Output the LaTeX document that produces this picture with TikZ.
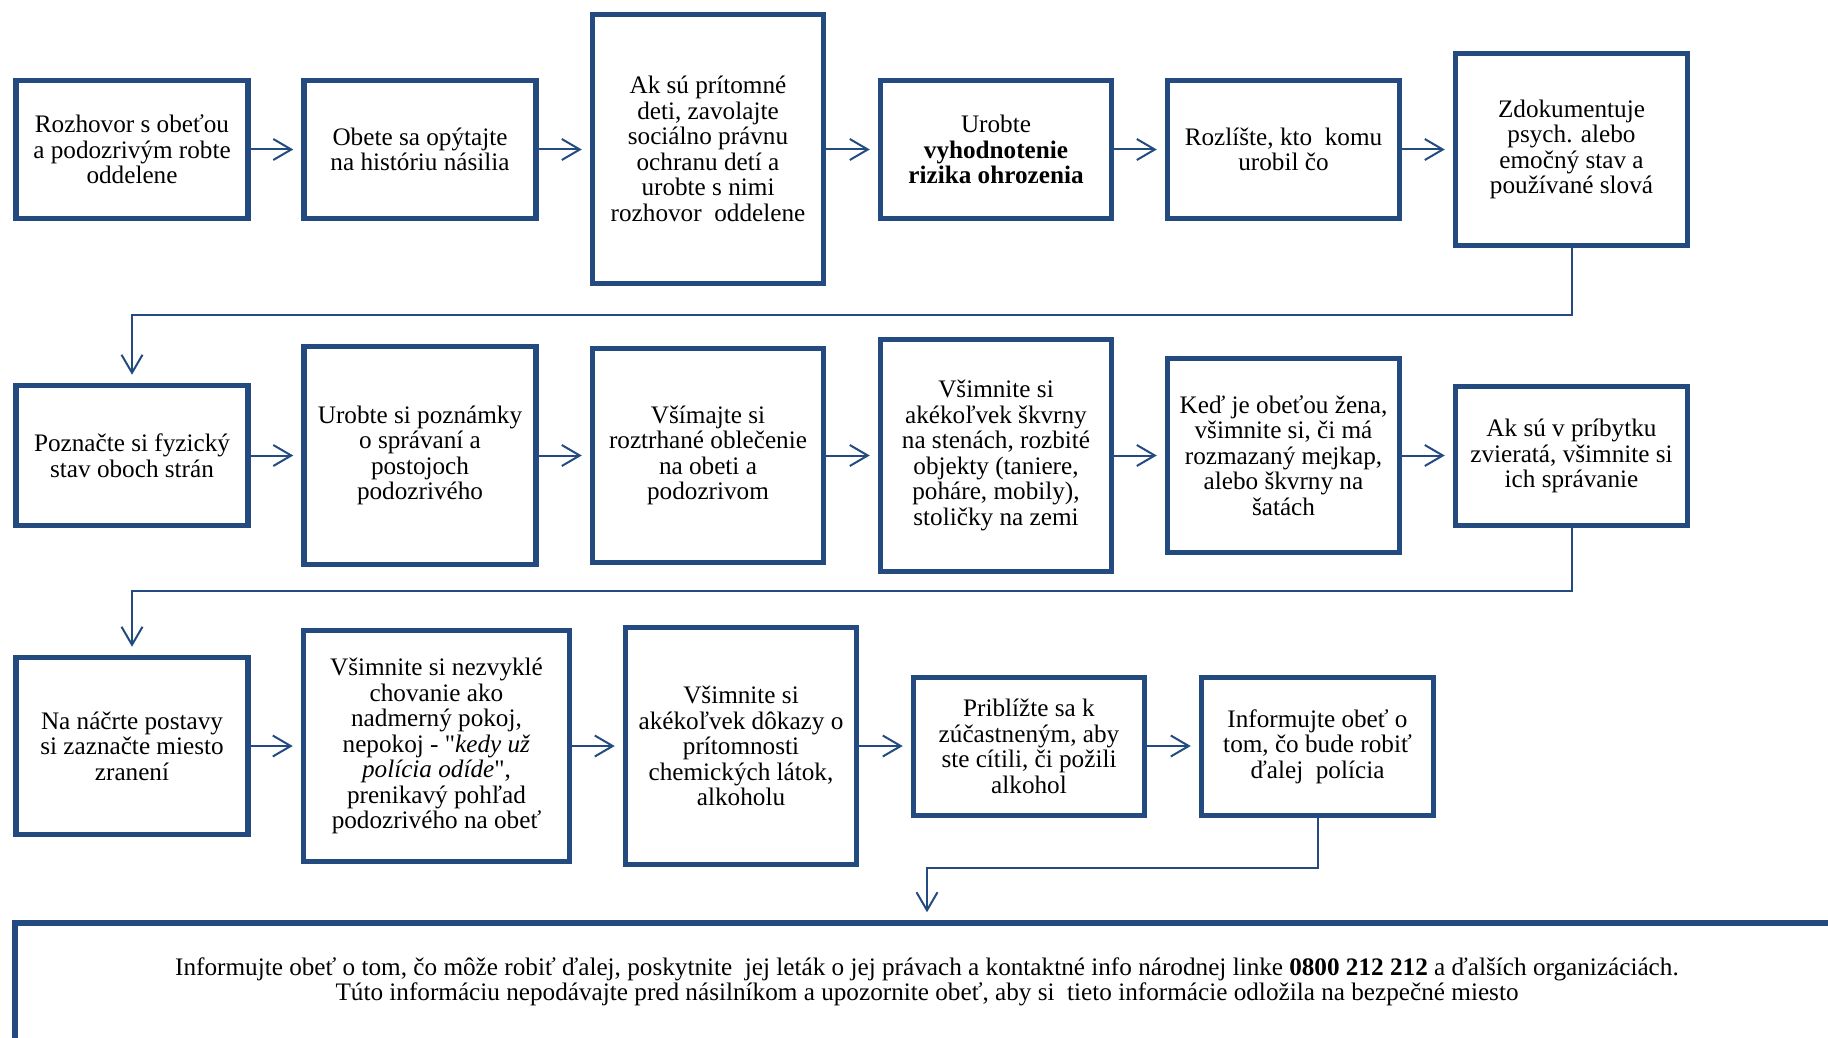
\documentclass[tikz,border=0pt]{standalone}
\usepackage{fontspec}
\setmainfont{Liberation Serif}[Ligatures=TeXOff]
\usetikzlibrary{arrows.meta}
\definecolor{dblue}{HTML}{234B80}
\begin{document}
\begin{tikzpicture}[x=1pt,y=-1pt,
  box/.style={draw=dblue, line width=5.5pt, align=center, inner sep=0pt,
    font=\fontsize{25.2}{25.5}\selectfont, text=black},
  txt/.style={align=center, inner sep=0pt, font=\fontsize{25.2}{25.5}\selectfont, text=black},
  arr/.style={draw=dblue, line width=2pt, -{Straight Barb[length=18pt,width=21pt]}, shorten >=8pt}
]
\clip (0,0) rectangle (1828,1038);
\useasboundingbox (0,0) rectangle (1828,1038);

% Row 1
\node[box, minimum width=232pt, minimum height=138pt] (b1) at (132,149.5) {Rozhovor s obeťou\\a podozrivým robte\\oddelene};
\node[box, minimum width=232pt, minimum height=138pt] (b2) at (420,149.5) {Obete sa opýtajte\\na históriu násilia};
\node[box, minimum width=231pt, minimum height=269pt] (b3) at (708,149) {Ak sú prítomné\\deti, zavolajte\\sociálno právnu\\ochranu detí a\\urobte s nimi\\rozhovor~ oddelene};
\node[box, minimum width=231pt, minimum height=138pt] (b4) at (996,149.5) {Urobte\\\textbf{vyhodnotenie}\\\textbf{rizika ohrozenia}};
\node[box, minimum width=232pt, minimum height=138pt] (b5) at (1283.5,149.5) {Rozlíšte, kto~ komu\\urobil čo};
\node[box, minimum width=232pt, minimum height=192pt] (b6) at (1571.5,149.5) {Zdokumentuje\\psych. alebo\\emočný stav a\\používané slová};

% Row 2
\node[box, minimum width=232pt, minimum height=140pt] (b7) at (132,455.5) {Poznačte si fyzický\\stav oboch strán};
\node[box, minimum width=232pt, minimum height=218pt] (b8) at (420,455.5) {Urobte si poznámky\\o správaní a\\postojoch\\podozrivého};
\node[box, minimum width=231pt, minimum height=214pt] (b9) at (708,455.5) {Všímajte si\\roztrhané oblečenie\\na obeti a\\podozrivom};
\node[box, minimum width=231pt, minimum height=232pt] (b10) at (996,455.5) {Všimnite si\\akékoľvek škvrny\\na stenách, rozbité\\objekty (taniere,\\poháre, mobily),\\stoličky na zemi};
\node[box, minimum width=232pt, minimum height=194pt] (b11) at (1283.5,455.5) {Keď je obeťou žena,\\všimnite si, či má\\rozmazaný mejkap,\\alebo škvrny na\\šatách};
\node[box, minimum width=232pt, minimum height=139pt] (b12) at (1571.5,456) {Ak sú v príbytku\\zvieratá, všimnite si\\ich správanie};

% Row 3
\node[box, minimum width=232pt, minimum height=177pt] (b13) at (132,746) {Na náčrte postavy\\si zaznačte miesto\\zranení};
\node[box, minimum width=266pt, minimum height=231pt] (b14) at (436.5,746) {Všimnite si nezvyklé\\chovanie ako\\nadmerný pokoj,\\nepokoj - "\textit{kedy už}\\\textit{polícia odíde}",\\prenikavý pohľad\\podozrivého na obeť};
\node[box, minimum width=231pt, minimum height=237pt] (b15) at (741,746) {Všimnite si\\akékoľvek dôkazy o\\prítomnosti\\chemických látok,\\alkoholu};
\node[box, minimum width=231pt, minimum height=138pt] (b16) at (1029,746.5) {Priblížte sa k\\zúčastneným, aby\\ste cítili, či požili\\alkohol};
\node[box, minimum width=232pt, minimum height=138pt] (b17) at (1317.5,746.5) {Informujte obeť o\\tom, čo bude robiť\\ďalej~ polícia};

% Bottom box
\node[box, minimum width=1830pt, minimum height=137pt] (bot) at (930,991.5) {};
\node[txt] (bottxt) at (927,982) {Informujte obeť o tom, čo môže robiť ďalej, poskytnite~ jej leták o jej právach a kontaktné info národnej linke \textbf{0800 212 212} a ďalších organizáciách.\\Túto informáciu nepodávajte pred násilníkom a upozornite obeť, aby si~ tieto informácie odložila na bezpečné miesto};

% Connector coordinates
\coordinate (k1) at (1571.5,315);
\coordinate (k2) at (1571.5,591);
\coordinate (k3) at (1317.5,868);
\coordinate (k4) at (927,868);

% Arrows row 1
\draw[arr] (b1.east) -- (b2.west);
\draw[arr] (b2.east) -- (b3.west |- b2.east);
\draw[arr] (b3.east |- b4.west) -- (b4.west);
\draw[arr] (b4.east) -- (b5.west);
\draw[arr] (b5.east) -- (b6.west);
\draw[arr] (b6.south) -- (k1) -| (b7.north);

% Arrows row 2
\draw[arr] (b7.east) -- (b8.west |- b7.east);
\draw[arr] (b8.east |- b7.east) -- (b9.west |- b7.east);
\draw[arr] (b9.east |- b7.east) -- (b10.west |- b7.east);
\draw[arr] (b10.east |- b7.east) -- (b11.west |- b7.east);
\draw[arr] (b11.east |- b7.east) -- (b12.west |- b7.east);
\draw[arr] (b12.south) -- (k2) -| (b13.north);

% Arrows row 3
\draw[arr] (b13.east) -- (b14.west |- b13.east);
\draw[arr] (b14.east |- b13.east) -- (b15.west |- b13.east);
\draw[arr] (b15.east |- b13.east) -- (b16.west |- b13.east);
\draw[arr] (b16.east |- b13.east) -- (b17.west |- b13.east);
\draw[arr] (b17.south) -- (k3) -- (k4) -- (k4 |- bot.north);
\end{tikzpicture}
\end{document}
